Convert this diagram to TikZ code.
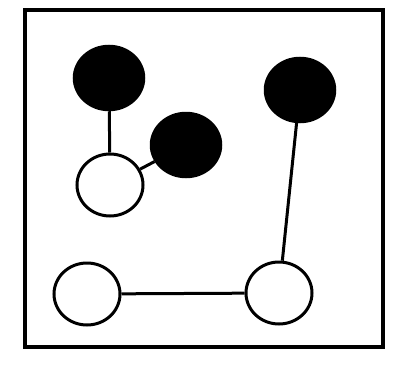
\documentclass[tikz,border=0pt]{standalone}
\usetikzlibrary{shapes.geometric}
\begin{document}
\begin{tikzpicture}[x=1pt,y=-1pt,
  blk/.style={ellipse,draw=black,fill=black,line width=2.5pt,minimum width=70pt,minimum height=64pt,inner sep=0pt},
  wht/.style={ellipse,draw=black,fill=white,line width=3pt,minimum width=66pt,minimum height=62pt,inner sep=0pt},
  conn/.style={draw=black,line width=3pt}]
\useasboundingbox (0,0) rectangle (393,364);
\draw[line width=3.5pt] (25,10) rectangle (383,347);
\node[blk] (b1) at (109,78) {};
\node[blk] (b2) at (186,145) {};
\node[blk] (b3) at (300,90) {};
\node[wht] (w1) at (110,185) {};
\node[wht] (w2) at (87,294) {};
\node[wht] (w3) at (279,293) {};
\draw[conn] (b1) -- (w1);
\draw[conn] (b2) -- (w1);
\draw[conn] (b3) -- (w3);
\draw[conn] (w2) -- (w3);
\end{tikzpicture}
\end{document}
